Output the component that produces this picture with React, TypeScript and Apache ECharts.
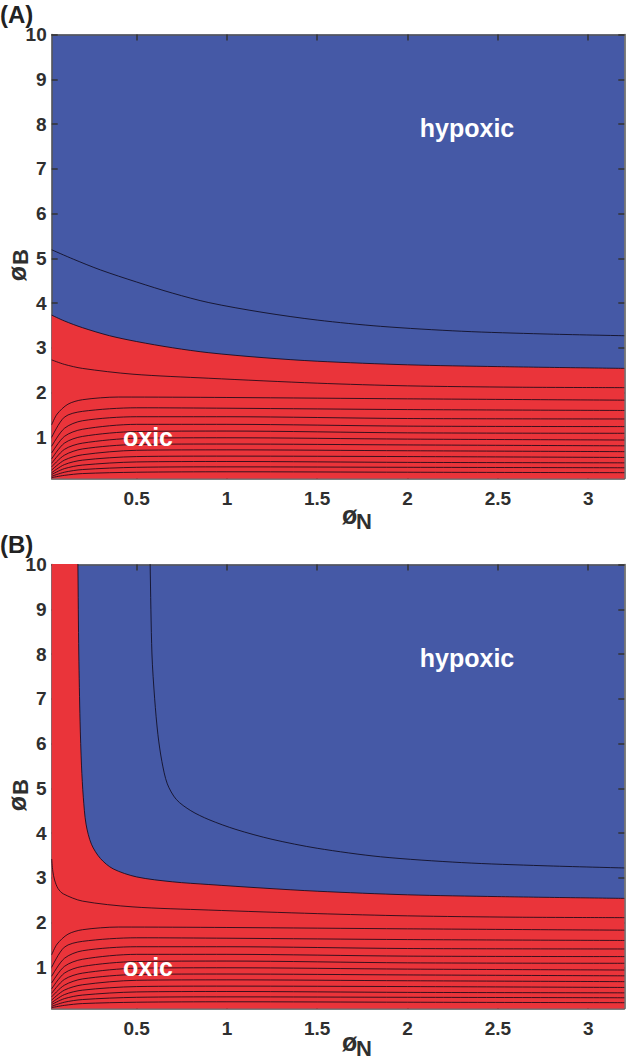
import React, { useEffect, useRef } from "react";
import * as echarts from "echarts";

type Pt = [number, number];

// Axis ranges and tick labels
const xRange: Pt = [0.03, 3.2];
const yRange: Pt = [0.08, 10];
const xTicks = [0.5, 1, 1.5, 2, 2.5, 3];
const yTicks = [1, 2, 3, 4, 5, 6, 7, 8, 9, 10];

// Panel A: oxic/hypoxic boundary and contours
const boundaryA: Pt[] = [[0.03, 3.73], [0.1, 3.6], [0.2, 3.45], [0.35, 3.27], [0.5, 3.14], [0.7, 3.0], [0.9, 2.89], [1.2, 2.78], [1.5, 2.7], [2, 2.62], [2.5, 2.58], [3.2, 2.54]];
const upperA: Pt[] = [[0.03, 5.19], [0.15, 4.98], [0.3, 4.74], [0.5, 4.47], [0.7, 4.22], [0.9, 4.01], [1.2, 3.79], [1.5, 3.62], [1.85, 3.48], [2.3, 3.37], [2.75, 3.31], [3.2, 3.27]];
const firstLowA: Pt[] = [[0.03, 2.73], [0.1, 2.63], [0.2, 2.54], [0.48, 2.41], [0.9, 2.32], [1.5, 2.21], [2, 2.15], [2.6, 2.12], [3.2, 2.11]];

// Panel B: oxic/hypoxic boundary and contours
const boundaryB: Pt[] = [[0.03, 12], [0.17, 12], [0.175, 10], [0.18, 8], [0.187, 6.5], [0.195, 5.5], [0.205, 4.8], [0.22, 4.2], [0.25, 3.75], [0.3, 3.43], [0.37, 3.2], [0.5, 3.02], [0.7, 2.91], [0.9, 2.85], [1.2, 2.77], [1.5, 2.7], [2, 2.62], [2.5, 2.58], [3.2, 2.54]];
const upperB: Pt[] = [[0.573, 10.6], [0.575, 10], [0.585, 8], [0.6, 7], [0.618, 6.2], [0.64, 5.6], [0.67, 5.1], [0.72, 4.75], [0.8, 4.5], [0.9, 4.3], [1.05, 4.08], [1.25, 3.86], [1.5, 3.66], [1.85, 3.47], [2.3, 3.34], [2.75, 3.27], [3.2, 3.22]];
const firstLowB: Pt[] = [[0.03, 3.42], [0.036, 3.15], [0.046, 2.95], [0.065, 2.76], [0.095, 2.64], [0.2, 2.48], [0.48, 2.35], [0.9, 2.28], [1.5, 2.2], [2, 2.15], [2.6, 2.12], [3.2, 2.11]];

// Lower contour lines (same in both panels)
const low2: Pt[] = [[0.03, 1.28], [0.06, 1.52], [0.12, 1.74], [0.2, 1.84], [0.4, 1.9], [1, 1.89], [2, 1.86], [3.2, 1.83]];
const low3: Pt[] = [[0.03, 1.0], [0.1, 1.45], [0.2, 1.58], [0.5, 1.66], [1, 1.65], [2, 1.62], [3.2, 1.6]];
const low4: Pt[] = [[0.03, 0.8], [0.1, 1.2], [0.2, 1.37], [0.5, 1.46], [1, 1.46], [2, 1.42], [3.2, 1.41]];
const low5: Pt[] = [[0.03, 0.65], [0.1, 1.02], [0.2, 1.18], [0.5, 1.29], [1, 1.29], [2, 1.25], [3.2, 1.24]];
const low6: Pt[] = [[0.03, 0.52], [0.1, 0.87], [0.2, 1.02], [0.5, 1.13], [1, 1.14], [2, 1.1], [3.2, 1.09]];
const low7: Pt[] = [[0.03, 0.42], [0.1, 0.73], [0.2, 0.87], [0.5, 0.98], [1, 0.99], [2, 0.96], [3.2, 0.94]];
const low8: Pt[] = [[0.03, 0.34], [0.1, 0.6], [0.2, 0.74], [0.5, 0.84], [1, 0.85], [2, 0.83], [3.2, 0.81]];
const low9: Pt[] = [[0.03, 0.27], [0.1, 0.49], [0.2, 0.61], [0.5, 0.71], [1, 0.72], [2, 0.7], [3.2, 0.68]];
const low10: Pt[] = [[0.03, 0.21], [0.1, 0.39], [0.2, 0.49], [0.5, 0.57], [1, 0.58], [2, 0.57], [3.2, 0.55]];
const low11: Pt[] = [[0.03, 0.17], [0.1, 0.3], [0.2, 0.38], [0.5, 0.45], [1, 0.46], [2, 0.44], [3.2, 0.43]];
const low12: Pt[] = [[0.03, 0.13], [0.1, 0.22], [0.2, 0.28], [0.5, 0.33], [1, 0.34], [2, 0.33], [3.2, 0.32]];
const low13: Pt[] = [[0.03, 0.1], [0.1, 0.15], [0.2, 0.19], [0.5, 0.22], [1, 0.23], [2, 0.22], [3.2, 0.21]];
const lowerLines: Pt[][] = [low2, low3, low4, low5, low6, low7, low8, low9, low10, low11, low12, low13];

const BLUE = "#4559a6";
const RED = "#ea343a";
const LINE = "rgba(10,5,20,0.78)";
const FONT = '"Liberation Sans", Arial, sans-serif';
const TXT = "#2f2f2f";

const GRID_LEFT = 51.7;
const GRID_W = 572.6;
const GRID_H = 444;
const TOPS = [34.5, 564.5];

function contour(data: Pt[], idx: number, fill?: boolean): any {
  const s: any = {
    type: "line",
    data,
    xAxisIndex: idx * 2,
    yAxisIndex: idx * 2,
    symbol: "none",
    showSymbol: false,
    smooth: 0.3,
    silent: true,
    clip: true,
    lineStyle: { color: LINE, width: 1 },
  };
  if (fill) s.areaStyle = { color: RED, opacity: 1, origin: "start" };
  return s;
}

function xAxes(g: number): any[] {
  const base = {
    gridIndex: g,
    type: "value",
    min: xRange[0],
    max: xRange[1],
    splitLine: { show: false },
    axisLine: { show: true, onZero: false, lineStyle: { color: "#555", width: 1.5 } },
    axisTick: { show: true, inside: true, length: 6, customValues: xTicks, lineStyle: { color: "#333", width: 1.5 } },
  };
  return [
    {
      ...base,
      position: "bottom",
      axisLabel: { show: true, customValues: xTicks, margin: 10, fontFamily: FONT, fontWeight: "bold", fontSize: 19, color: TXT },
    },
    { ...base, position: "top", axisLabel: { show: false } },
  ];
}

function yAxes(g: number): any[] {
  const base = {
    gridIndex: g,
    type: "value",
    min: yRange[0],
    max: yRange[1],
    splitLine: { show: false },
    axisLine: { show: true, onZero: false, lineStyle: { color: "#555", width: 1.5 } },
    axisTick: { show: true, inside: true, length: 6, customValues: yTicks, lineStyle: { color: "#333", width: 1.5 } },
  };
  return [
    {
      ...base,
      position: "left",
      axisLabel: { show: true, customValues: yTicks, margin: 5, fontFamily: FONT, fontWeight: "bold", fontSize: 19, color: TXT },
    },
    { ...base, position: "right", axisLabel: { show: false } },
  ];
}

function txt(text: string, x: number, y: number, size: number, fill: string, align = "left"): any {
  return {
    type: "text",
    x,
    y,
    z: 100,
    silent: true,
    style: { text, fill, font: `bold ${size}px ${FONT}`, textAlign: align, textVerticalAlign: "middle" },
  };
}

function panelGraphics(label: string, dy: number, xTitleDy: number): any[] {
  return [
    txt(label, 0, 14 + dy, 24, "#222"),
    txt("hypoxic", 467, 128 + dy, 25, "#ffffff", "center"),
    txt("oxic", 148, 437 + dy, 25, "#ffffff", "center"),
    // x axis title
    txt("ø", 342, 515 + xTitleDy, 25, TXT),
    txt("N", 356, 521 + xTitleDy, 22, TXT),
    // y axis title (rotated)
    {
      type: "group",
      x: 19,
      y: 266 + dy,
      z: 100,
      rotation: Math.PI / 2,
      children: [
        {
          type: "text",
          x: 0,
          y: -2.5,
          z: 100,
          style: { text: "ø", fill: TXT, font: `bold 25px ${FONT}`, textAlign: "right", textVerticalAlign: "middle" },
        },
        {
          type: "text",
          x: 1,
          y: 1,
          z: 100,
          style: { text: "B", fill: TXT, font: `bold 22px ${FONT}`, textAlign: "left", textVerticalAlign: "middle" },
        },
      ],
    },
  ];
}

export default function App() {
  const ref = useRef<HTMLDivElement>(null);
  useEffect(() => {
    if (!ref.current) return;
    const chart = echarts.init(ref.current, undefined, { renderer: "svg" });
    const series: any[] = [
      contour(boundaryA, 0, true),
      contour(upperA, 0),
      contour(firstLowA, 0),
      ...lowerLines.map((l) => contour(l, 0)),
      contour(boundaryB, 1, true),
      contour(upperB, 1),
      contour(firstLowB, 1),
      ...lowerLines.map((l) => contour(l, 1)),
    ];
    chart.setOption({
      animation: false,
      grid: TOPS.map((t) => ({
        left: GRID_LEFT,
        top: t,
        width: GRID_W,
        height: GRID_H,
        show: true,
        backgroundColor: BLUE,
        borderWidth: 0,
        containLabel: false,
      })),
      xAxis: [...xAxes(0), ...xAxes(1)],
      yAxis: [...yAxes(0), ...yAxes(1)],
      series,
      graphic: [...panelGraphics("(A)", 0, 0), ...panelGraphics("(B)", 530, 527)],
    });
    return () => chart.dispose();
  }, []);
  return <div ref={ref} style={{ position: "absolute", left: 0, top: 0, width: 626, height: 1060 }} />;
}
